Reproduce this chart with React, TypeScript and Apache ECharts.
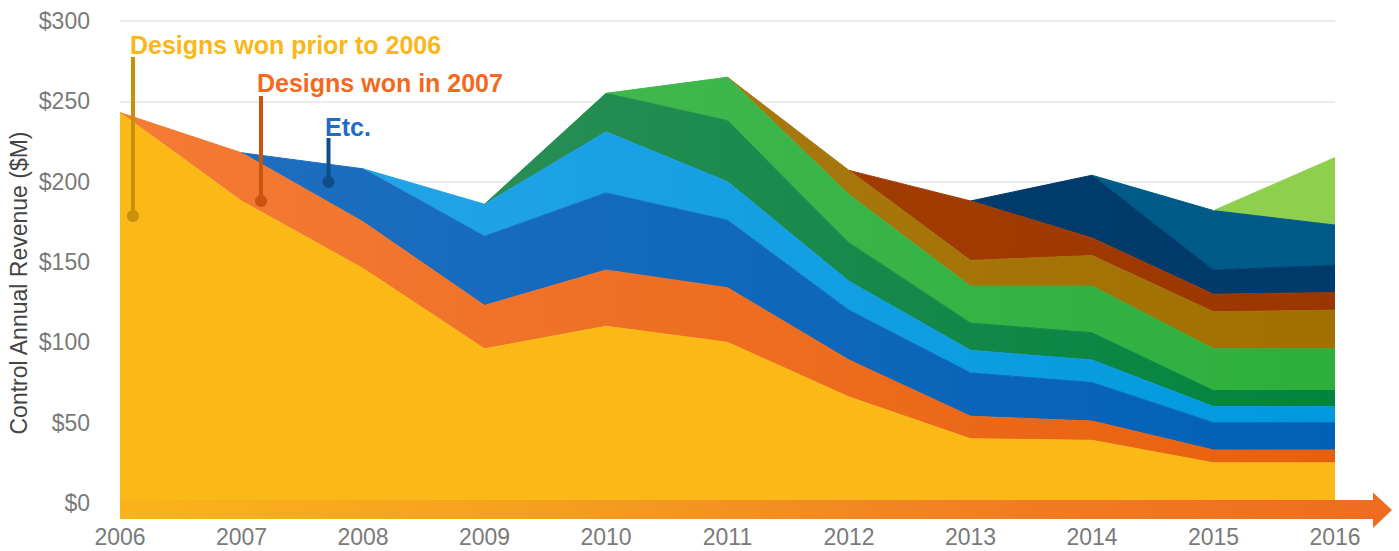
import { useEffect, useRef } from "react";
import * as echarts from "echarts";

const years = ["2006", "2007", "2008", "2009", "2010", "2011", "2012", "2013", "2014", "2015", "2016"];
const yTicks = [0, 50, 100, 150, 200, 250, 300];

// Revenue ($M) by design-win cohort, stacked
const wonPrior2006 = [243, 188, 146, 96, 110, 100, 66, 40, 39, 25, 25];
const won2007 = [0, 30, 29, 27, 35, 34, 23, 14, 12, 8, 8];
const won2008 = [null, 0, 33, 43, 48, 42, 31, 27, 24, 17, 17];
const won2009 = [null, null, 0, 20, 38, 24, 18, 14, 14, 10, 10];
const won2010 = [null, null, null, 0, 24, 38, 24, 17, 17, 10, 10];
const won2011 = [null, null, null, null, 0, 27, 30, 23, 29, 26, 26];
const won2012 = [null, null, null, null, null, 0, 15, 16, 19, 23, 24];
const won2013 = [null, null, null, null, null, null, 0, 37, 11, 11, 11];
const won2014 = [null, null, null, null, null, null, null, 0, 39, 15, 17];
const won2015 = [null, null, null, null, null, null, null, null, 0, 37, 25];
const won2016 = [null, null, null, null, null, null, null, null, null, 0, 42];

const cohorts = [
  { name: "Designs won prior to 2006", data: wonPrior2006, c: ["#FBB918", "#FBB817"] },
  { name: "Designs won in 2007", data: won2007, c: ["#F47B36", "#E8600C"] },
  { name: "Designs won in 2008", data: won2008, c: ["#216FC1", "#0061B6"] },
  { name: "Designs won in 2009", data: won2009, c: ["#2BA6E9", "#0099DE"] },
  { name: "Designs won in 2010", data: won2010, c: ["#3A925E", "#00843E"] },
  { name: "Designs won in 2011", data: won2011, c: ["#4DBD58", "#2CAF3D"] },
  { name: "Designs won in 2012", data: won2012, c: ["#B07F1D", "#A07000"] },
  { name: "Designs won in 2013", data: won2013, c: ["#A84402", "#9C3600"] },
  { name: "Designs won in 2014", data: won2014, c: ["#003E70", "#003A6A"] },
  { name: "Designs won in 2015", data: won2015, c: ["#005E8C", "#005A88"] },
  { name: "Designs won in 2016", data: won2016, c: ["#8ED04E", "#8ED04E"] },
];

const FONT = '"Liberation Sans", Arial, Helvetica, sans-serif';

function grad(a: string, b: string) {
  return new echarts.graphic.LinearGradient(120, 0, 1335, 0, [
    { offset: 0, color: a },
    { offset: 1, color: b },
  ], true);
}

export default function App() {
  const ref = useRef<HTMLDivElement>(null);
  useEffect(() => {
    document.body.style.margin = "0";
    if (!ref.current) return;
    const chart = echarts.init(ref.current, undefined, { renderer: "svg" });
    chart.setOption({
      animation: false,
      backgroundColor: "#ffffff",
      grid: { left: 120, right: 64, top: 21, bottom: 48, containLabel: false },
      xAxis: {
        type: "category",
        data: years,
        boundaryGap: false,
        axisLine: { show: false },
        axisTick: { show: false },
        axisLabel: { color: "#7a7a7a", fontSize: 23, fontFamily: FONT, margin: 22 },
        splitLine: { show: false },
      },
      yAxis: {
        type: "value",
        min: yTicks[0],
        max: yTicks[yTicks.length - 1],
        interval: 50,
        axisLine: { show: false },
        axisTick: { show: false },
        axisLabel: {
          color: "#7a7a7a",
          fontSize: 23,
          fontFamily: FONT,
          margin: 30,
          formatter: (v: number) => "$" + v,
        },
        splitLine: { lineStyle: { color: "#E6E6E6", width: 1.5 } },
      },
      series: cohorts.map((s) => ({
        name: s.name,
        type: "line",
        stack: "total",
        data: s.data,
        symbol: "none",
        showSymbol: false,
        silent: true,
        lineStyle: { width: 1, color: grad(s.c[0], s.c[1]) },
        itemStyle: { color: s.c[1] },
        areaStyle: { color: grad(s.c[0], s.c[1]), opacity: 1 },
        emphasis: { disabled: true },
      })),
      graphic: [
        {
          type: "polygon",
          z: 100,
          shape: {
            points: [
              [120, 500], [1373, 500], [1373, 492.5], [1392, 510],
              [1373, 528], [1373, 519], [120, 519],
            ],
          },
          style: {
            fill: new echarts.graphic.LinearGradient(120, 0, 1392, 0, [
              { offset: 0, color: "#FAB419" },
              { offset: 0.35, color: "#F59E1F" },
              { offset: 0.7, color: "#F07D22" },
              { offset: 1, color: "#EE6C20" },
            ], true),
          },
        },
        {
          type: "text",
          z: 100,
          x: 19,
          y: 283,
          rotation: Math.PI / 2,
          style: {
            text: "Control Annual Revenue ($M)",
            font: `23px ${FONT}`,
            fill: "#444444",
            textAlign: "center",
            textVerticalAlign: "middle",
          },
        },
        // leader lines
        { type: "line", z: 100, shape: { x1: 133, y1: 57, x2: 133, y2: 216 }, style: { stroke: "#C8900C", lineWidth: 4 } },
        { type: "circle", z: 100, shape: { cx: 133, cy: 216, r: 6 }, style: { fill: "#C8900C" } },
        { type: "line", z: 100, shape: { x1: 261, y1: 96, x2: 261, y2: 201 }, style: { stroke: "#C9530F", lineWidth: 4 } },
        { type: "circle", z: 100, shape: { cx: 261, cy: 201, r: 6 }, style: { fill: "#C9530F" } },
        { type: "line", z: 100, shape: { x1: 328.5, y1: 138, x2: 328.5, y2: 182 }, style: { stroke: "#0E4D88", lineWidth: 4 } },
        { type: "circle", z: 100, shape: { cx: 328.5, cy: 182, r: 6 }, style: { fill: "#0E4D88" } },
        // annotation texts
        {
          type: "text", z: 100, x: 130, y: 45,
          style: { text: "Designs won prior to 2006", font: `bold 25px ${FONT}`, fill: "#FBB71A", textAlign: "left", textVerticalAlign: "middle" },
        },
        {
          type: "text", z: 100, x: 257, y: 83,
          style: { text: "Designs won in 2007", font: `bold 25px ${FONT}`, fill: "#F26A21", textAlign: "left", textVerticalAlign: "middle" },
        },
        {
          type: "text", z: 100, x: 325, y: 127,
          style: { text: "Etc.", font: `bold 25px ${FONT}`, fill: "#1E6DC3", textAlign: "left", textVerticalAlign: "middle" },
        },
      ],
    });
    return () => chart.dispose();
  }, []);
  return <div ref={ref} style={{ width: 1399, height: 551 }} />;
}
